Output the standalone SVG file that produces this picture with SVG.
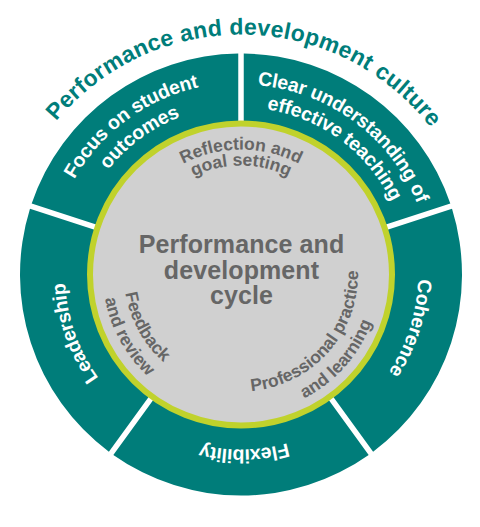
<svg xmlns="http://www.w3.org/2000/svg" width="480" height="527" viewBox="0 0 480 527">
<style>
.seg{fill:#007d7a}
.txt{font-family:"Liberation Sans",Arial,sans-serif;font-weight:bold}
.w{fill:#ffffff;font-size:19.5px;letter-spacing:-0.2px}
.g{fill:#666666;font-size:17.5px;letter-spacing:0px}
.c{fill:#666666;font-size:25px;letter-spacing:0.1px}
.t{fill:#007d7a;font-size:23px;letter-spacing:0.3px}
</style>
<defs>
<path id="p-culture" d="M2.32,249.41 A240,240 0 0 1 480.41,257.76"/>
<path id="p-focus1" d="M77.29,374.82 A192,192 0 0 1 384.80,147.28"/>
<path id="p-focus2" d="M96.90,362.80 A169,169 0 0 1 367.57,162.52"/>
<path id="p-clear1" d="M98.70,148.60 A190,190 0 0 1 403.00,373.78"/>
<path id="p-clear2" d="M115.92,163.84 A167,167 0 0 1 383.39,361.76"/>
<path id="p-coh" d="M308.74,110.97 A177,177 0 0 1 202.69,447.31"/>
<path id="p-flex" d="M415.57,286.71 A175,175 0 0 1 66.96,292.79"/>
<path id="p-lead" d="M284.77,444.97 A176,176 0 0 1 168.29,114.22"/>
<path id="p-refl1" d="M116.48,263.60 A125,125 0 0 1 365.52,263.60"/>
<path id="p-refl2" d="M132.42,265.00 A109,109 0 0 1 349.58,265.00"/>
<path id="p-prof1" d="M171.41,368.55 A117,117 0 0 0 325.87,193.96"/>
<path id="p-prof2" d="M158.32,386.24 A139,139 0 0 0 341.83,178.82"/>
<path id="p-feed1" d="M175.91,177.28 A117,117 0 0 0 288.22,381.55"/>
<path id="p-feed2" d="M164.23,159.82 A138,138 0 0 0 296.69,400.76"/>
</defs>
<g id="culture-title">
<text class="txt t"><textPath href="#p-culture" startOffset="50%" text-anchor="middle">Performance and development culture</textPath></text>
</g>
<g id="seg-clear">
<path class="seg" d="M243.75,53.52 A221,221 0 0 1 450.31,203.60 L382.79,225.54 A150,150 0 0 0 243.75,124.53 Z"/>
<text class="txt w"><textPath href="#p-clear1" startOffset="50%" text-anchor="middle">Clear understanding of</textPath></text>
<text class="txt w"><textPath href="#p-clear2" startOffset="50%" text-anchor="middle">effective teaching</textPath></text>
</g>
<g id="seg-coherence">
<path class="seg" d="M452.02,208.84 A221,221 0 0 1 373.12,451.66 L331.38,394.22 A150,150 0 0 0 384.48,230.77 Z"/>
<text class="txt w"><textPath href="#p-coh" startOffset="50%" text-anchor="middle">Coherence</textPath></text>
</g>
<g id="seg-flexibility">
<path class="seg" d="M368.67,454.90 A221,221 0 0 1 113.33,454.90 L155.07,397.45 A150,150 0 0 0 326.93,397.45 Z"/>
<text class="txt w"><textPath href="#p-flex" startOffset="50%" text-anchor="middle">Flexibility</textPath></text>
</g>
<g id="seg-leadership">
<path class="seg" d="M108.88,451.66 A221,221 0 0 1 29.98,208.84 L97.52,230.77 A150,150 0 0 0 150.62,394.22 Z"/>
<text class="txt w"><textPath href="#p-lead" startOffset="50%" text-anchor="middle">Leadership</textPath></text>
</g>
<g id="seg-focus">
<path class="seg" d="M31.69,203.60 A221,221 0 0 1 238.25,53.52 L238.25,124.53 A150,150 0 0 0 99.21,225.54 Z"/>
<text class="txt w"><textPath href="#p-focus1" startOffset="50%" text-anchor="middle">Focus on student</textPath></text>
<text class="txt w"><textPath href="#p-focus2" startOffset="50%" text-anchor="middle">outcomes</textPath></text>
</g>
<g id="cycle">
<circle cx="241" cy="274.5" r="151" fill="#d0d0d0" stroke="#c0d22c" stroke-width="6"/>
<text class="txt c" x="241.5" y="253.3" text-anchor="middle">Performance and</text>
<text class="txt c" x="241.5" y="278.5" text-anchor="middle">development</text>
<text class="txt c" x="241.5" y="304" text-anchor="middle">cycle</text>
</g>
<g id="stage-reflection">
<text class="txt g"><textPath href="#p-refl1" startOffset="50%" text-anchor="middle">Reflection and</textPath></text>
<text class="txt g"><textPath href="#p-refl2" startOffset="50%" text-anchor="middle">goal setting</textPath></text>
</g>
<g id="stage-professional">
<text class="txt g"><textPath href="#p-prof1" startOffset="50%" text-anchor="middle">Professional practice</textPath></text>
<text class="txt g"><textPath href="#p-prof2" startOffset="50%" text-anchor="middle">and learning</textPath></text>
</g>
<g id="stage-feedback">
<text class="txt g"><textPath href="#p-feed1" startOffset="50%" text-anchor="middle">Feedback</textPath></text>
<text class="txt g"><textPath href="#p-feed2" startOffset="50%" text-anchor="middle">and review</textPath></text>
</g>
<g id="connectors"></g>
</svg>
